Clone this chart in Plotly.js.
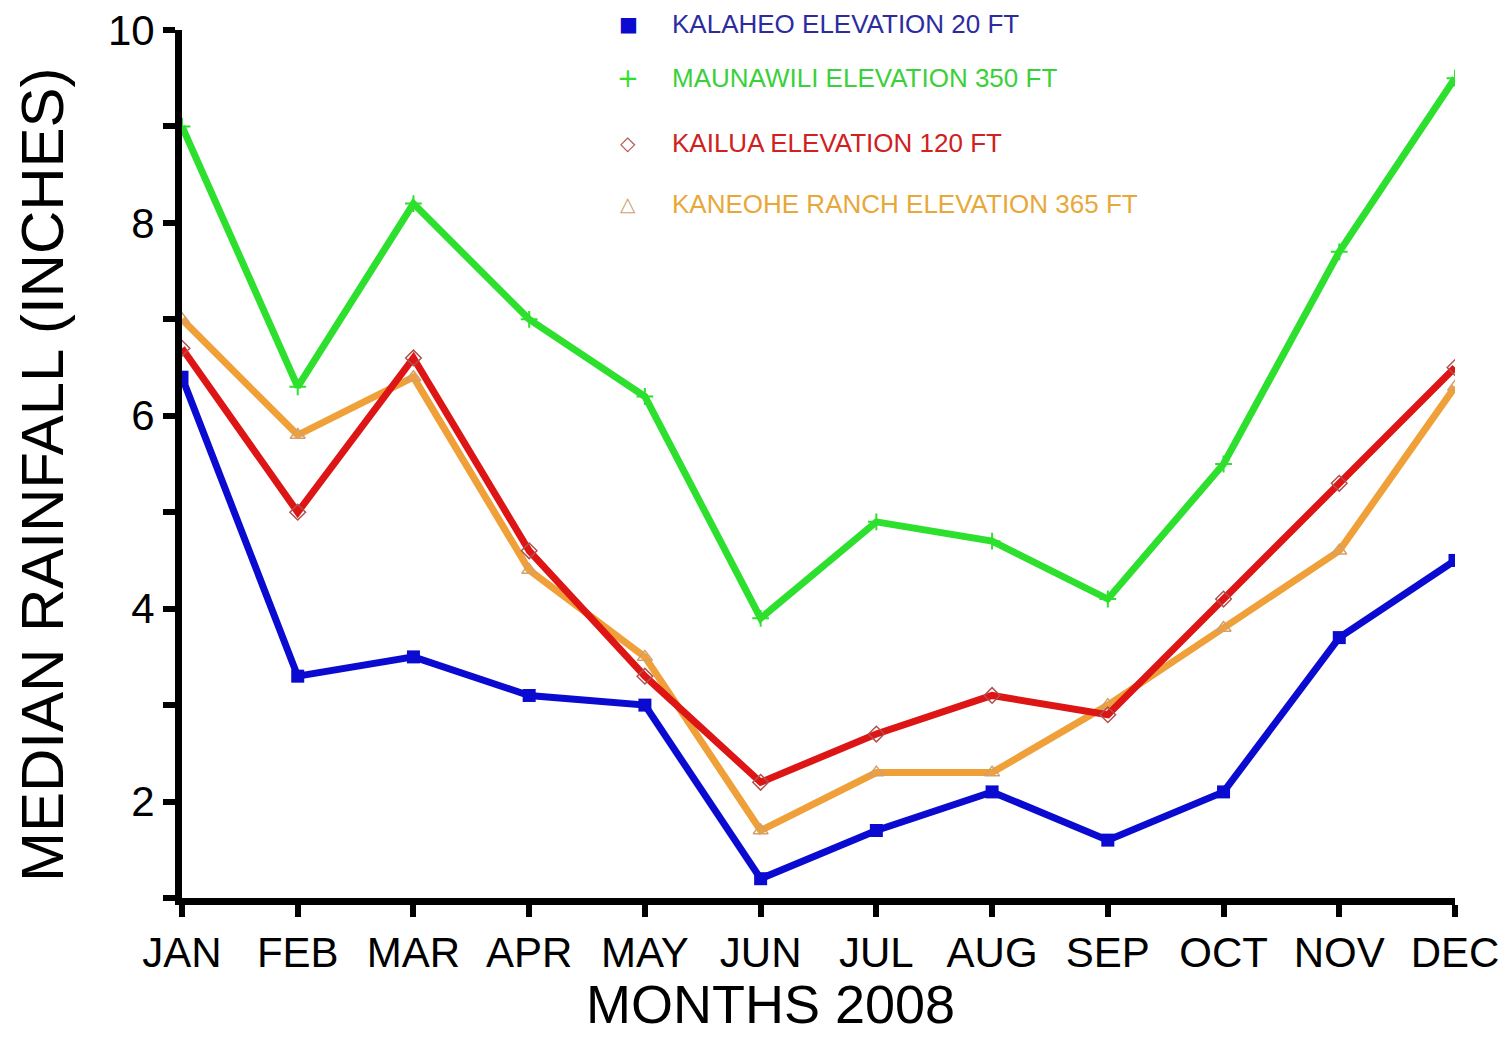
<!DOCTYPE html>
<html>
<head>
<meta charset="utf-8">
<script src="https://cdn.plot.ly/plotly-3.0.1.min.js"></script>
<style>html,body{margin:0;padding:0;background:#fff;}#chart{width:1511px;height:1042px;}</style>
</head>
<body>
<div id="chart"></div>
<script>
const months = ["JAN","FEB","MAR","APR","MAY","JUN","JUL","AUG","SEP","OCT","NOV","DEC"];
const kalaheo   = [6.4, 3.3, 3.5, 3.1, 3.0, 1.2, 1.7, 2.1, 1.6, 2.1, 3.7, 4.5];
const maunawili = [9.0, 6.3, 8.2, 7.0, 6.2, 3.9, 4.9, 4.7, 4.1, 5.5, 7.7, 9.5];
const kailua    = [6.7, 5.0, 6.6, 4.6, 3.3, 2.2, 2.7, 3.1, 2.9, 4.1, 5.3, 6.5];
const kaneohe   = [7.0, 5.8, 6.4, 4.4, 3.5, 1.7, 2.3, 2.3, 3.0, 3.8, 4.6, 6.3];
const seriesNames = ["KALAHEO ELEVATION 20 FT","MAUNAWILI ELEVATION 350 FT","KAILUA ELEVATION 120 FT","KANEOHE RANCH ELEVATION 365 FT"];
const legendGlyphs = ["\u25A0", "+", "\u25C7", "\u25B3"];
const yTickVals = [1,2,3,4,5,6,7,8,9,10];
const yTickText = ["","2","","4","","6","","8","","10"];

const idx = months.map((m,i)=>i);
const lineCols = ["#0a0ad0","#2ee02e","#dd1515","#f0a038"];
const textCols = ["#2c2ca0","#3ad03a","#d02020","#e8a838"];
const glyphCols = ["#0a0ad0","#2ee02e","#b05050","#d0a070"];
const glyphSizes = [20, 26, 20, 20];
const mk = [
  {symbol:"square", size:13, color:"#0a0ad0"},
  {symbol:"cross-thin-open", size:12, color:"#2ee02e", line:{width:2,color:"#2ee02e"}},
  {symbol:"diamond-open", size:12, color:"#b05050", line:{width:1.5,color:"#b05050"}},
  {symbol:"triangle-up-open", size:13, color:"#d0a070", line:{width:1.5,color:"#d0a070"}}
];
const all = [kalaheo, maunawili, kailua, kaneohe];
const traces = [];
[1,3,2,0].forEach(i=>{
  traces.push({x: idx, y: all[i], mode:"lines+markers", showlegend:false, name:seriesNames[i],
    line:{color:lineCols[i], width:7}, marker:mk[i], hoverinfo:"skip"});
});

const L = 182, T = 30, PW = 1273, PH = 868;
const px = v => (v - L) / PW;
const py = v => (T + PH - v) / PH;
const legendY = [24, 78, 143, 204];

const annotations = [
  {text:"MONTHS 2008", xref:"paper", yref:"paper", x:px(770), y:py(1004), xanchor:"center", yanchor:"middle",
   showarrow:false, font:{size:54}},
  {text:"MEDIAN RAINFALL (INCHES)", xref:"paper", yref:"paper", x:px(42), y:py(475), xanchor:"center", yanchor:"middle",
   textangle:-90, showarrow:false, font:{size:60}}
];
seriesNames.forEach((n,i)=>{
  annotations.push({text:n, xref:"paper", yref:"paper", x:px(670), y:py(legendY[i]), xanchor:"left", yanchor:"middle",
    showarrow:false, font:{size:26, color:textCols[i]}});
  annotations.push({text:legendGlyphs[i], xref:"paper", yref:"paper", x:px(628), y:py(legendY[i]), xanchor:"center", yanchor:"middle",
    showarrow:false, font:{size:glyphSizes[i], color:glyphCols[i], family:"DejaVu Sans, sans-serif"}});
});

const layout = {
  width:1511, height:1042,
  margin:{l:L, r:1511-L-PW, t:T, b:1042-T-PH},
  paper_bgcolor:"#fff", plot_bgcolor:"#fff",
  font:{family:"Liberation Sans, Arial, sans-serif", color:"#000"},
  showlegend:false,
  xaxis:{range:[0,11], tickvals:idx, ticktext:months, showgrid:false, zeroline:false,
    showline:true, linecolor:"#000", linewidth:7, ticks:"outside", ticklen:12, tickwidth:6, tickcolor:"#000",
    tickfont:{size:42}},
  yaxis:{range:[1,10], tickvals:yTickVals, ticktext:yTickText, showgrid:false, zeroline:false,
    showline:true, linecolor:"#000", linewidth:7, ticks:"outside", ticklen:12, tickwidth:6, tickcolor:"#000",
    tickfont:{size:42}},
  annotations: annotations
};
Plotly.newPlot("chart", traces, layout, {displayModeBar:false, staticPlot:true});
</script>
</body>
</html>
